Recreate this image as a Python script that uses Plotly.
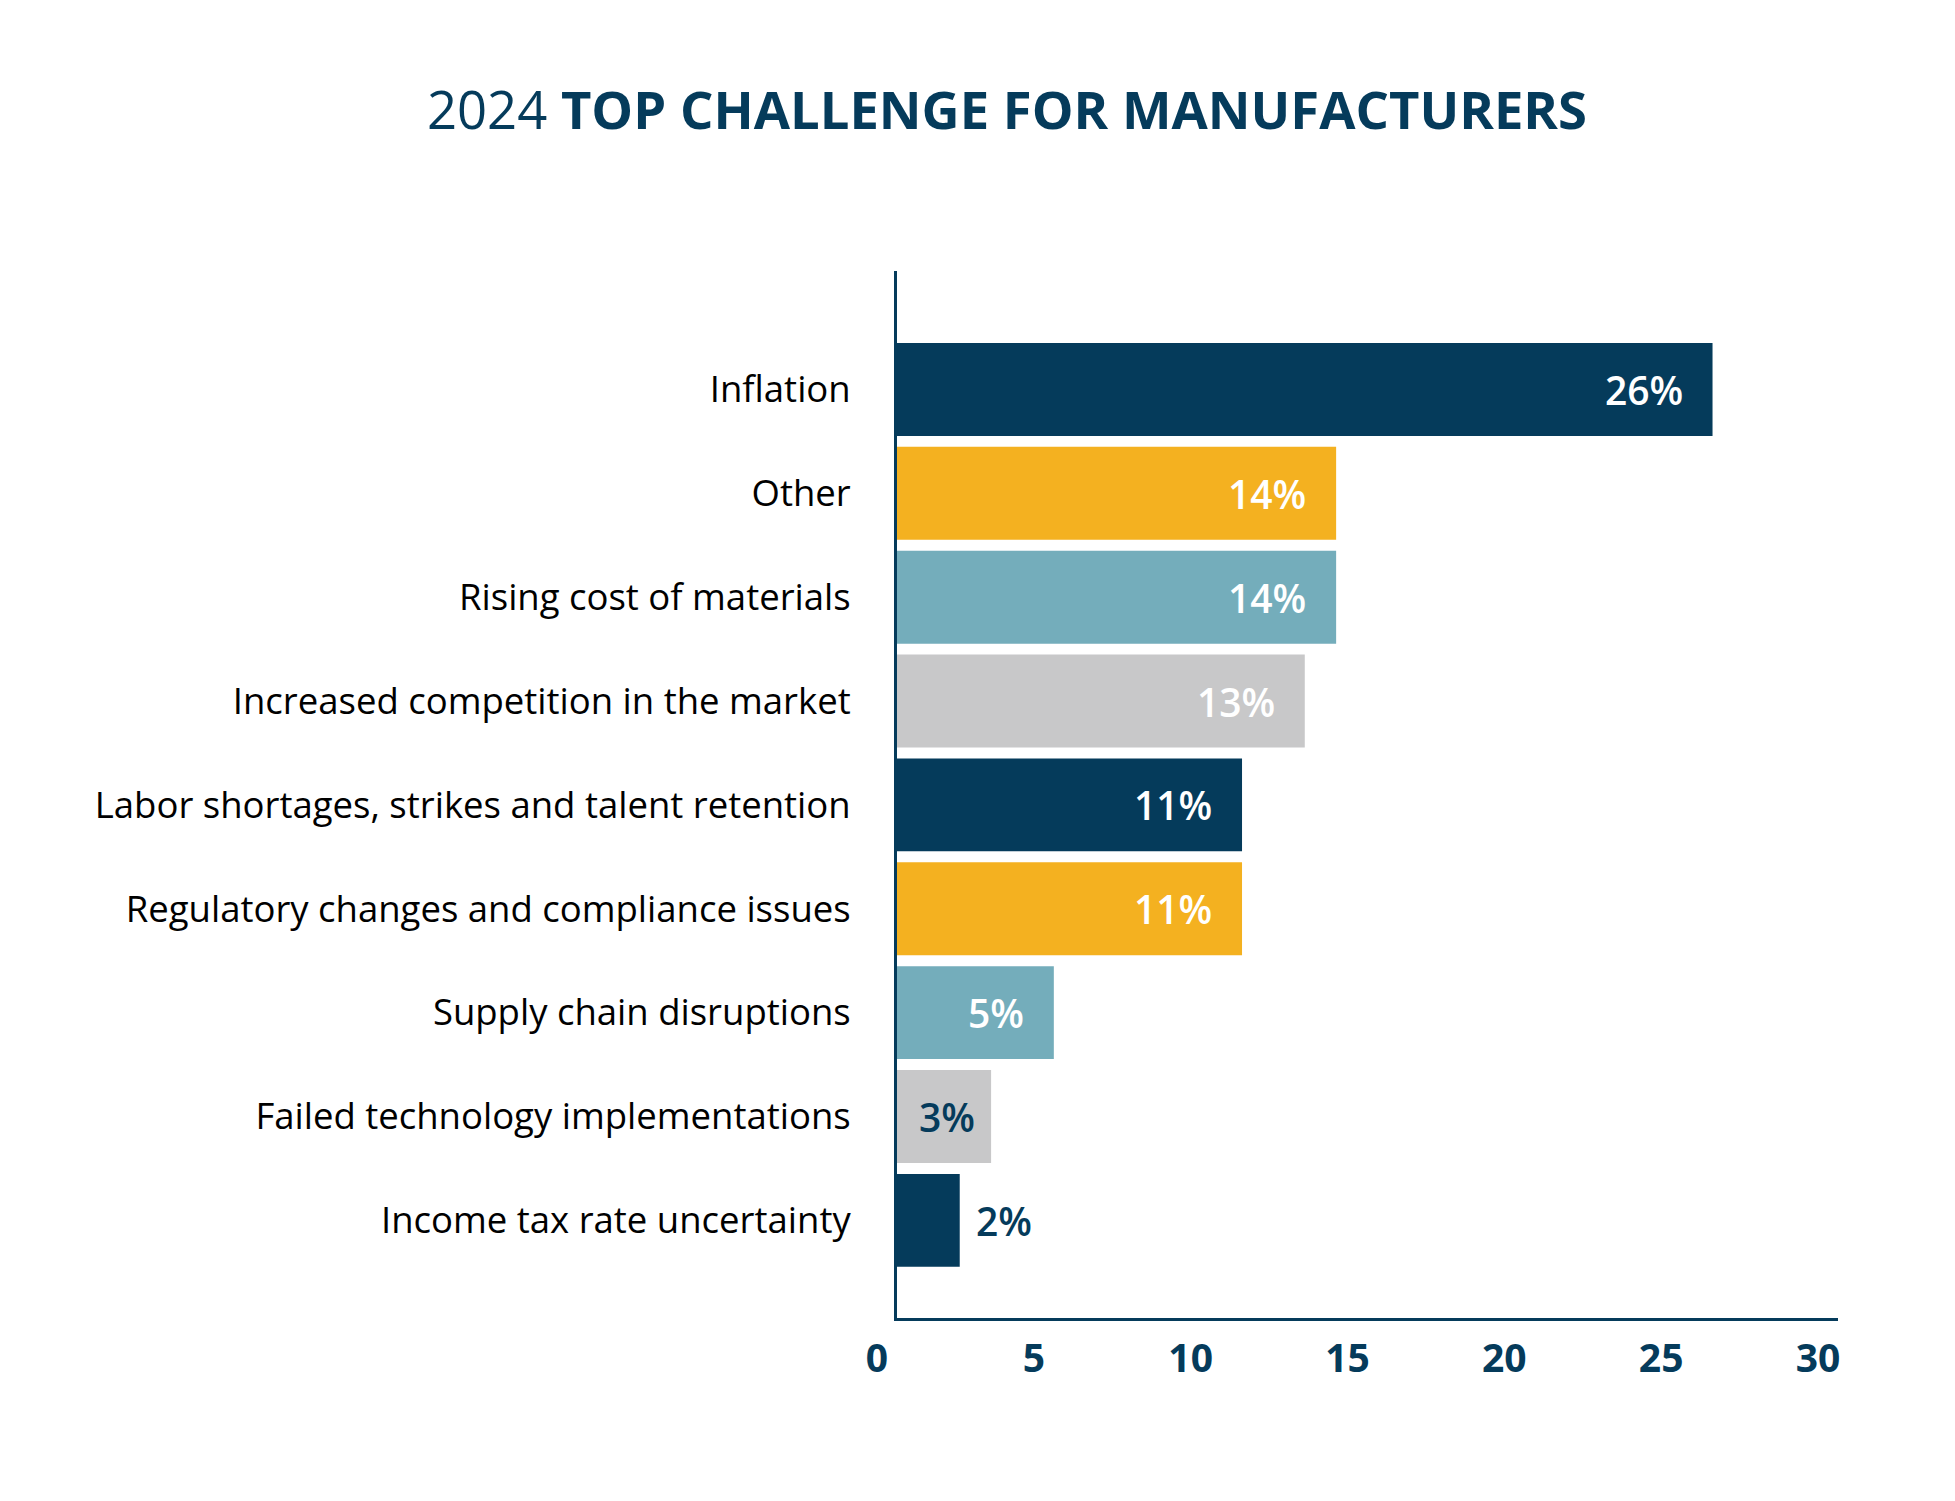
import plotly.graph_objects as go

categories = [
    "Inflation",
    "Other",
    "Rising cost of materials",
    "Increased competition in the market",
    "Labor shortages, strikes and talent retention",
    "Regulatory changes and compliance issues",
    "Supply chain disruptions",
    "Failed technology implementations",
    "Income tax rate uncertainty",
]
values = [26, 14, 14, 13, 11, 11, 5, 3, 2]
value_labels = ["26%", "14%", "14%", "13%", "11%", "11%", "5%", "3%", "2%"]
tick_values = [0, 5, 10, 15, 20, 25, 30]

NAVY = "#053B5B"
GOLD = "#F4B120"
TEAL = "#74ADBB"
GRAY = "#C8C8C9"
bar_colors = [NAVY, GOLD, TEAL, GRAY, NAVY, GOLD, TEAL, GRAY, NAVY]
label_colors = ["white"] * 7 + [NAVY, NAVY]

order = list(reversed(categories))

fig = go.Figure()
fig.add_trace(go.Bar(
    x=values,
    y=categories,
    orientation="h",
    marker=dict(color=bar_colors, line=dict(width=0)),
    width=0.895,
    hoverinfo="skip",
))

for cat, v, lab, col in zip(categories, values, value_labels, label_colors):
    if lab == "2%":
        anchor, shift = "left", 14
    elif lab == "3%":
        anchor, shift = "right", -14
    else:
        anchor, shift = "right", -28
    fig.add_annotation(
        x=v, y=cat, xref="x", yref="y", text=lab, showarrow=False,
        xanchor=anchor, xshift=shift, yanchor="middle",
        font=dict(family="Open Sans", size=39, color=col, weight=600),
    )

fig.update_layout(
    width=1955,
    height=1501,
    margin=dict(l=889, r=125, t=263, b=191, autoexpand=False),
    paper_bgcolor="white",
    plot_bgcolor="white",
    showlegend=False,
    title=dict(
        text="2024 <b>TOP CHALLENGE FOR MANUFACTURERS</b>",
        x=999 / 1955, xanchor="center", xref="container",
        y=1 - 103 / 1501, yanchor="middle", yref="container",
        font=dict(family="Open Sans", size=52.6, color=NAVY),
    ),
)

fig.update_xaxes(
    range=[0, 30],
    tickvals=tick_values,
    ticktext=[str(t) for t in tick_values],
    showgrid=False,
    zeroline=False,
    showline=True,
    linecolor=NAVY,
    linewidth=3,
    ticks="",
    ticklabelstandoff=4,
    ticklabelshift=-20,
    tickfont=dict(family="Open Sans", size=39, color=NAVY, weight=700),
)
fig.update_yaxes(
    type="category",
    categoryorder="array",
    categoryarray=order,
    range=[-0.94, 9.14],
    showgrid=False,
    zeroline=False,
    showline=True,
    linecolor=NAVY,
    linewidth=3,
    ticks="",
    ticklabelstandoff=36,
    tickfont=dict(family="Open Sans", size=36.5, color="black"),
)

fig.write_html("out.html")
